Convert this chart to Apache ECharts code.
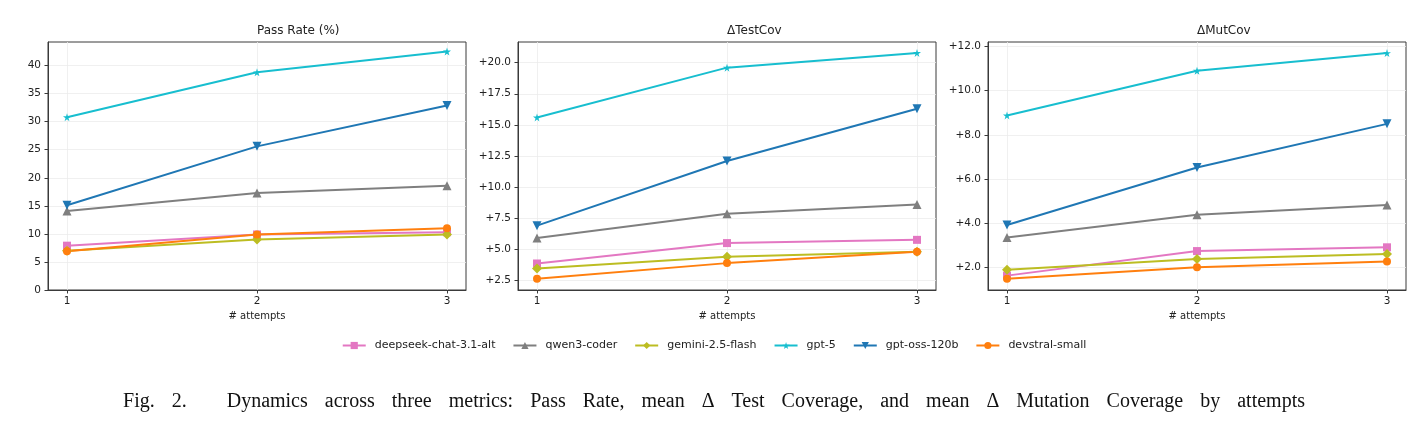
<!DOCTYPE html>
<html>
<head>
<meta charset="utf-8">
<script src="https://cdn.jsdelivr.net/npm/echarts@6/dist/echarts.min.js"></script>
<style>
  html, body { margin: 0; padding: 0; background: #fff; }
  #chart { width: 1428px; height: 429px; }
</style>
</head>
<body>
<div id="chart"></div>
<script>
  // values
  const attempts = [1, 2, 3]
  const models = ['deepseek-chat-3.1-alt', 'qwen3-coder', 'gemini-2.5-flash', 'gpt-5', 'gpt-oss-120b', 'devstral-small']

  const passRate = {
    'deepseek-chat-3.1-alt': [7.9, 9.9, 10.3],
    'qwen3-coder': [14.1, 17.3, 18.6],
    'gemini-2.5-flash': [7.0, 9.0, 9.9],
    'gpt-5': [30.8, 38.8, 42.5],
    'gpt-oss-120b': [15.1, 25.6, 32.9],
    'devstral-small': [6.9, 9.9, 11.0]
  }
  const testCov = {
    'deepseek-chat-3.1-alt': [3.86, 5.5, 5.76],
    'qwen3-coder': [5.9, 7.85, 8.6],
    'gemini-2.5-flash': [3.46, 4.4, 4.8],
    'gpt-5': [15.6, 19.6, 20.78],
    'gpt-oss-120b': [6.9, 12.1, 16.3],
    'devstral-small': [2.63, 3.89, 4.8]
  }
  const mutCov = {
    'deepseek-chat-3.1-alt': [1.64, 2.75, 2.92],
    'qwen3-coder': [3.36, 4.39, 4.83],
    'gemini-2.5-flash': [1.9, 2.39, 2.62],
    'gpt-5': [8.88, 10.9, 11.7],
    'gpt-oss-120b': [3.93, 6.53, 8.5],
    'devstral-small': [1.5, 2.02, 2.28]
  }

  const passTicks = [0, 5, 10, 15, 20, 25, 30, 35, 40]
  const testTicks = [2.5, 5, 7.5, 10, 12.5, 15, 17.5, 20]
  const mutTicks = [2, 4, 6, 8, 10, 12]

  const captionWords = ['Fig.', '2.', 'Dynamics', 'across', 'three', 'metrics:', 'Pass', 'Rate,', 'mean', '\u0394', 'Test',
    'Coverage,', 'and', 'mean', '\u0394', 'Mutation', 'Coverage', 'by', 'attempts']

  const colors = {
    'deepseek-chat-3.1-alt': '#e377c2',
    'qwen3-coder': '#7f7f7f',
    'gemini-2.5-flash': '#bcbd22',
    'gpt-5': '#17becf',
    'gpt-oss-120b': '#1f77b4',
    'devstral-small': '#ff7f0e'
  }
  const star = 'path://M50,0 L61,35 L98,35 L68,57 L79,91 L50,70 L21,91 L32,57 L2,35 L39,35 Z'
  const markers = {
    'deepseek-chat-3.1-alt': { symbol: 'rect', size: 8, rotate: 0 },
    'qwen3-coder': { symbol: 'triangle', size: 9, rotate: 0 },
    'gemini-2.5-flash': { symbol: 'diamond', size: 10, rotate: 0 },
    'gpt-5': { symbol: star, size: 8, rotate: 0 },
    'gpt-oss-120b': { symbol: 'triangle', size: 9, rotate: 180 },
    'devstral-small': { symbol: 'circle', size: 8, rotate: 0 }
  }

  const FONT = 'DejaVu Sans'
  const panels = [
    { title: 'Pass Rate (%)', data: passRate, ticks: passTicks, min: 0, max: 44.2, left: 48, fmt: v => String(v) },
    { title: '\u0394TestCov', data: testCov, ticks: testTicks, min: 1.73, max: 21.66, left: 518, fmt: v => '+' + v.toFixed(1) },
    { title: '\u0394MutCov', data: mutCov, ticks: mutTicks, min: 0.99, max: 12.2, left: 988, fmt: v => '+' + v.toFixed(1) }
  ]
  const W = 418

  let chart = echarts.init(document.getElementById('chart'))

  let grids = [], xAxes = [], yAxes = [], series = [], graphics = []
  panels.forEach((p, i) => {
    grids.push({
      left: p.left, top: 42, width: W, height: 248,
      show: true, borderColor: '#3a3a3a', borderWidth: 1, backgroundColor: 'transparent'
    })
    xAxes.push({
      gridIndex: i, type: 'value', min: 0.9, max: 3.1,
      name: '# attempts', nameLocation: 'middle', nameGap: 21,
      nameTextStyle: { fontFamily: FONT, fontSize: 10, color: '#222' },
      axisLine: { show: true, lineStyle: { color: '#3a3a3a', width: 1 } },
      axisTick: { show: true, length: 3.5, lineStyle: { color: '#3a3a3a' }, customValues: attempts },
      axisLabel: { fontFamily: FONT, fontSize: 10.5, color: '#222', margin: 6, customValues: attempts },
      splitLine: { show: true, lineStyle: { color: '#ececec', width: 0.8 } }
    })
    yAxes.push({
      gridIndex: i, type: 'value', min: p.min, max: p.max,
      axisLine: { show: true, lineStyle: { color: '#3a3a3a', width: 1 } },
      axisTick: { show: true, length: 3.5, lineStyle: { color: '#3a3a3a' }, customValues: p.ticks },
      axisLabel: { fontFamily: FONT, fontSize: 10.5, color: '#222', margin: 7, customValues: p.ticks, formatter: p.fmt },
      splitLine: { show: true, lineStyle: { color: '#ececec', width: 0.8 } }
    })
    models.forEach(m => {
      series.push({
        name: m, type: 'line', xAxisIndex: i, yAxisIndex: i,
        data: attempts.map((a, k) => [a, p.data[m][k]]),
        symbol: markers[m].symbol, symbolSize: markers[m].size, symbolRotate: markers[m].rotate,
        showAllSymbol: true,
        itemStyle: { color: colors[m] },
        lineStyle: { color: colors[m], width: 2 },
        emphasis: { disabled: true },
        animation: false
      })
    })
    graphics.push({
      type: 'text', left: p.left + W / 2, top: 25,
      style: { text: p.title, font: '12px "DejaVu Sans"', fill: '#222', textAlign: 'center' }
    })
  })

  // caption: wide word spacing like the typeset original
  let captionText = captionWords.map((w, k) => {
    let gap = k === 0 ? '' : (k === 2 ? '{d| }' : '{s| }')
    return gap + '{w|' + w + '}'
  }).join('')
  graphics.push({
    type: 'text', left: 'center', top: 392,
    style: {
      text: captionText,
      rich: {
        w: { fontFamily: 'Liberation Serif', fontSize: 20, fill: '#111' },
        s: { width: 17, fontFamily: 'Liberation Serif', fontSize: 20 },
        d: { width: 40, fontFamily: 'Liberation Serif', fontSize: 20 }
      }
    }
  })

  let options = {
    animation: false,
    grid: grids,
    xAxis: xAxes,
    yAxis: yAxes,
    legend: {
      data: models,
      top: 335, left: 'center',
      itemWidth: 23, itemHeight: 9, itemGap: 17,
      textStyle: { fontFamily: FONT, fontSize: 11, color: '#222', padding: [0, 0, 0, 4] }
    },
    graphic: graphics,
    series: series
  }
  chart.setOption(options)
</script>
</body>
</html>
